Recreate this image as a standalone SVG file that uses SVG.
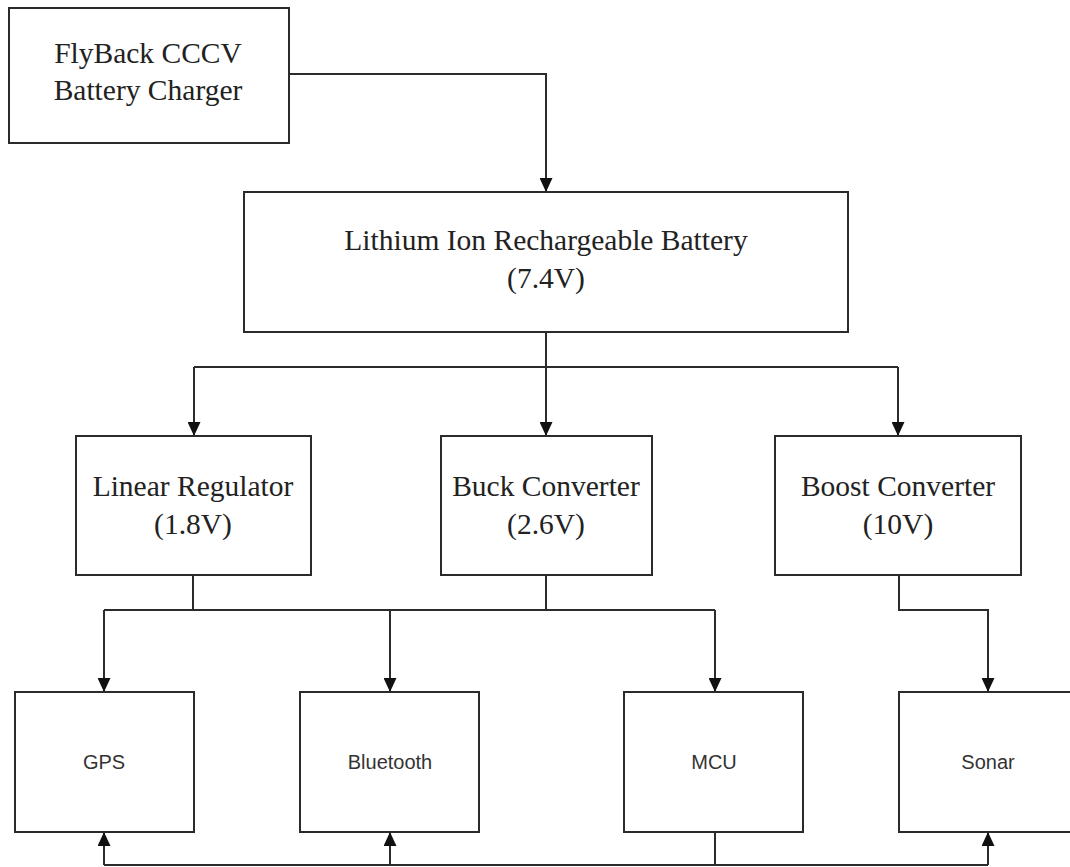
<svg xmlns="http://www.w3.org/2000/svg" width="1070" height="867" viewBox="0 0 1070 867">
  <style>
    .box { fill: #ffffff; stroke: #2b2b2b; stroke-width: 2; }
    .wire { fill: none; stroke: #2b2b2b; stroke-width: 2; }
    .serif { font-family: "Liberation Serif", "Times New Roman", serif; font-size: 29.5px; fill: #222; text-anchor: middle; }
    .sans { font-family: "Liberation Sans", Arial, sans-serif; font-size: 20px; fill: #333; text-anchor: middle; }
  </style>
  <defs>
    <marker id="arrow" markerUnits="userSpaceOnUse" markerWidth="14" markerHeight="13" refX="14" refY="6.5" orient="auto">
      <path d="M0,0 L14,6.5 L0,13 Z" fill="#111"/>
    </marker>
  </defs>
  <rect width="1070" height="867" fill="#ffffff"/>

  <!-- power and signal connections -->
  <g id="connectors">
    <path class="wire" d="M289,74 H546 V192" marker-end="url(#arrow)"/>
    <path class="wire" d="M546,332 V367"/>
    <path class="wire" d="M194,367 H898"/>
    <path class="wire" d="M194,367 V436" marker-end="url(#arrow)"/>
    <path class="wire" d="M546,367 V436" marker-end="url(#arrow)"/>
    <path class="wire" d="M898,367 V436" marker-end="url(#arrow)"/>
    <path class="wire" d="M193,575 V610"/>
    <path class="wire" d="M546,575 V610"/>
    <path class="wire" d="M104,610 H715"/>
    <path class="wire" d="M104,610 V692" marker-end="url(#arrow)"/>
    <path class="wire" d="M390,610 V692" marker-end="url(#arrow)"/>
    <path class="wire" d="M715,610 V692" marker-end="url(#arrow)"/>
    <path class="wire" d="M899,575 V610 H988 V692" marker-end="url(#arrow)"/>
    <path class="wire" d="M715,832 V865"/>
    <path class="wire" d="M104,865 H988"/>
    <path class="wire" d="M104,865 V832" marker-end="url(#arrow)"/>
    <path class="wire" d="M390,865 V832" marker-end="url(#arrow)"/>
    <path class="wire" d="M988,865 V832" marker-end="url(#arrow)"/>
  </g>

  <g id="charger">
    <rect class="box" x="9" y="8" width="280" height="135"/>
    <text class="serif" x="148" y="63">FlyBack CCCV</text>
    <text class="serif" x="148" y="100">Battery Charger</text>
  </g>

  <g id="battery">
    <rect class="box" x="244" y="192" width="604" height="140"/>
    <text class="serif" x="546" y="250">Lithium Ion Rechargeable Battery</text>
    <text class="serif" x="546" y="288">(7.4V)</text>
  </g>

  <g id="linear-regulator">
    <rect class="box" x="76" y="436" width="235" height="139"/>
    <text class="serif" x="193" y="496">Linear Regulator</text>
    <text class="serif" x="193" y="534">(1.8V)</text>
  </g>

  <g id="buck-converter">
    <rect class="box" x="441" y="436" width="211" height="139"/>
    <text class="serif" x="546" y="496">Buck Converter</text>
    <text class="serif" x="546" y="534">(2.6V)</text>
  </g>

  <g id="boost-converter">
    <rect class="box" x="775" y="436" width="246" height="139"/>
    <text class="serif" x="898" y="496">Boost Converter</text>
    <text class="serif" x="898" y="534">(10V)</text>
  </g>

  <g id="gps">
    <rect class="box" x="15" y="692" width="179" height="140"/>
    <text class="sans" x="104" y="769">GPS</text>
  </g>

  <g id="bluetooth">
    <rect class="box" x="300" y="692" width="179" height="140"/>
    <text class="sans" x="390" y="769">Bluetooth</text>
  </g>

  <g id="mcu">
    <rect class="box" x="624" y="692" width="179" height="140"/>
    <text class="sans" x="714" y="769">MCU</text>
  </g>

  <g id="sonar">
    <rect class="box" x="899" y="692" width="179" height="140"/>
    <text class="sans" x="988" y="769">Sonar</text>
  </g>
</svg>
